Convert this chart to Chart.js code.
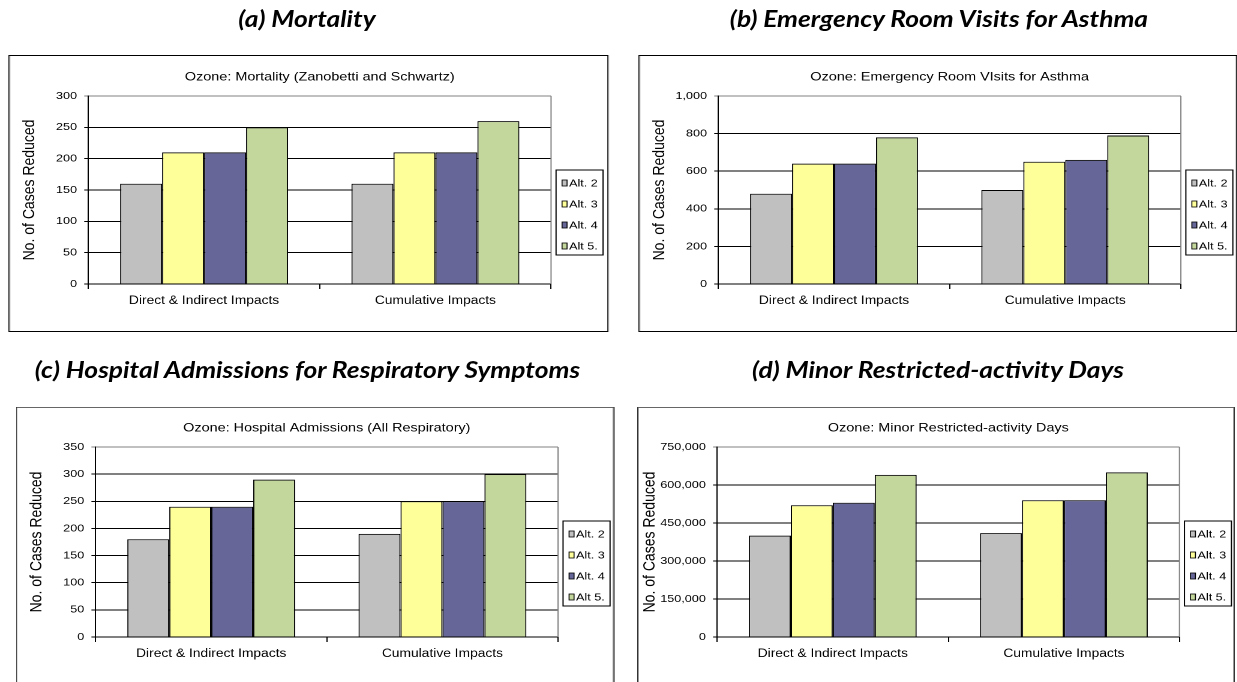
<!DOCTYPE html>
<html>
<head>
<meta charset="utf-8">
<script src="https://cdn.jsdelivr.net/npm/chart.js@4.4.1/dist/chart.umd.min.js"></script>
<style>
  html, body { margin: 0; padding: 0; background: #fff; overflow: hidden; width: 1237px; height: 682px; }
  #stage { position: absolute; left: 0; top: 0; width: 1031px; height: 682px; transform: scaleX(1.2); transform-origin: 0 0; }
  .box { position: absolute; box-sizing: border-box; border: 1px solid #000; background: transparent; }
  .boxLow { border-top-color: #666; }
  canvas.chart { position: absolute; }
  .ptitle { position: absolute; width: 600px; text-align: center; font-family: Lato, "Open Sans", sans-serif; font-weight: 700; font-style: italic; font-size: 22px; line-height: 26.4px; color: #000; white-space: nowrap; }
</style>
</head>
<body>
<div id="stage"></div>
<script>
// ---------------- data ----------------
const categories = ['Direct & Indirect Impacts', 'Cumulative Impacts'];
const seriesNames = ['Alt. 2', 'Alt. 3', 'Alt. 4', 'Alt 5.'];

// values per series: [Direct & Indirect, Cumulative]
const mortalityValues = [[160, 160], [210, 210], [210, 210], [250, 260]];
const asthmaValues    = [[480, 500], [640, 650], [640, 660], [780, 790]];
const hospitalValues  = [[180, 190], [240, 250], [240, 250], [290, 300]];
const mradValues      = [[400000, 410000], [520000, 540000], [530000, 540000], [640000, 650000]];

const mortalityTicks = [0, 50, 100, 150, 200, 250, 300];
const asthmaTicks    = [0, 200, 400, 600, 800, 1000];
const hospitalTicks  = [0, 50, 100, 150, 200, 250, 300, 350];
const mradTicks      = [0, 150000, 300000, 450000, 600000, 750000];

const panelHeadings = ['(a) Mortality', '(b) Emergency Room Visits for Asthma',
  '(c) Hospital Admissions for Respiratory Symptoms', '(d) Minor Restricted-activity Days'];
const chartTitles = ['Ozone: Mortality (Zanobetti and Schwartz)', 'Ozone: Emergency Room VIsits for Asthma',
  'Ozone: Hospital Admissions (All Respiratory)', 'Ozone: Minor Restricted-activity Days'];
const axisTitle = 'No. of Cases Reduced';

// ---------------- styles / layout ----------------
const seriesColors = ['#C0C0C0', '#FFFF99', '#666699', '#C3D69B'];
const FONT = 'Liberation Sans';
const S = 1.2; // horizontal stretch of the original figure

const panels = [
  { values: mortalityValues, ticks: mortalityTicks, left: 8,   top: 55,  w: 600, h: 277, bottom: 229, headX: 307,   headY: 19.5, axisOff: 21.3 },
  { values: asthmaValues,    ticks: asthmaTicks,    left: 638, top: 55,  w: 599, h: 277, bottom: 229, headX: 939,   headY: 19.5, axisOff: 21.3 },
  { values: hospitalValues,  ticks: hospitalTicks,  left: 16,  top: 407, w: 599, h: 300, bottom: 230, headX: 307.5, headY: 370.5, axisOff: 21.3 },
  { values: mradValues,      ticks: mradTicks,      left: 637, top: 407, w: 598, h: 300, bottom: 230, headX: 938,   headY: 370.5, axisOff: 12.5 }
];

const frameAndLegend = {
  id: 'frameAndLegend',
  beforeDatasetsDraw(chart) {
    const { ctx, chartArea: a } = chart;
    ctx.save();
    ctx.strokeStyle = '#808080';
    ctx.lineWidth = 1;
    ctx.beginPath();
    ctx.moveTo(a.right, a.top);
    ctx.lineTo(a.right, a.bottom);
    ctx.stroke();
    ctx.restore();
  },
  afterDraw(chart) {
    const { ctx, chartArea: a } = chart;
    const x0 = a.right + 5 / S, y0 = a.top + 74, w = 47 / S, h = 85;
    ctx.save();
    ctx.fillStyle = '#fff';
    ctx.fillRect(x0, y0, w, h);
    ctx.strokeStyle = '#000';
    ctx.lineWidth = 1;
    ctx.strokeRect(x0, y0, w, h);
    ctx.font = '10.5px "' + FONT + '"';
    ctx.textBaseline = 'middle';
    chart.data.datasets.forEach((ds, i) => {
      const cy = y0 + 13 + 21 * i;
      ctx.fillStyle = ds.backgroundColor;
      ctx.fillRect(x0 + 6 / S, cy - 3, 5 / S, 6);
      ctx.strokeStyle = '#000';
      ctx.lineWidth = 0.8;
      ctx.strokeRect(x0 + 6 / S, cy - 3, 5 / S, 6);
      ctx.fillStyle = '#000';
      ctx.fillText(ds.label, x0 + 13 / S, cy + 0.5);
    });
    ctx.restore();
  }
};

const stage = document.getElementById('stage');

panels.forEach((p, k) => {
  const W = p.w / S;
  const L = p.left / S;

  const head = document.createElement('div');
  head.className = 'ptitle';
  head.textContent = panelHeadings[k];
  head.style.left = (p.headX / S - 300) + 'px';
  head.style.top = (p.headY - 13.8) + 'px';
  stage.appendChild(head);

  const cv = document.createElement('canvas');
  cv.className = 'chart';
  cv.width = W; cv.height = p.h;
  cv.style.left = L + 'px';
  cv.style.top = p.top + 'px';
  stage.appendChild(cv);

  const box = document.createElement('div');
  box.className = 'box' + (k >= 2 ? ' boxLow' : '');
  box.style.left = L + 'px';
  box.style.top = p.top + 'px';
  box.style.width = W + 'px';
  box.style.height = p.h + 'px';
  stage.appendChild(box);

  const tk = p.ticks;
  const yMin = tk[0], yMax = tk[tk.length - 1], yStep = tk[1] - tk[0];
  const xAxisH = p.h - p.bottom;
  const padTop = k >= 2 ? 14 : 15;
  const titleB = (k >= 2 ? 40 : 41) - padTop - 14.4;

  new Chart(cv, {
    type: 'bar',
    data: {
      labels: categories,
      datasets: seriesNames.map((name, i) => ({
        label: name,
        data: p.values[i],
        backgroundColor: seriesColors[i],
        borderColor: '#000',
        borderWidth: 1,
        categoryPercentage: 0.726,
        barPercentage: 1.0
      }))
    },
    options: {
      responsive: false,
      animation: false,
      devicePixelRatio: 2,
      layout: { padding: { top: padTop, left: 0, bottom: 0, right: W - 452.2 } },
      plugins: {
        legend: { display: false },
        tooltip: { enabled: false },
        title: {
          display: true,
          text: chartTitles[k],
          fullSize: false,
          color: '#000',
          font: { family: FONT, size: 12, weight: 'normal' },
          padding: { top: 0, bottom: titleB }
        }
      },
      scales: {
        x: {
          offset: true,
          grid: { display: true, offset: true, drawOnChartArea: false, drawTicks: true, tickLength: 5, color: '#000', lineWidth: 1 },
          border: { display: true, color: '#000', width: 1 },
          ticks: { color: '#000', padding: 5, font: { family: FONT, size: 11.5 }, maxRotation: 0, autoSkip: false },
          afterFit: s => { s.height = xAxisH; }
        },
        y: {
          min: yMin, max: yMax,
          grid: {
            color: c => (c.tick && c.tick.value === yMax ? '#808080' : '#000'),
            lineWidth: 1, drawTicks: true, tickLength: 3.5
          },
          border: { display: true, color: '#000', width: 1 },
          ticks: {
            stepSize: yStep, color: '#000', padding: 6,
            font: { family: FONT, size: 10.5 },
            callback: v => Number(v).toLocaleString('en-US')
          },
          title: {
            display: true, text: axisTitle, color: '#000',
            font: { family: FONT, size: 14, weight: 'normal' },
            padding: { top: Math.max(0, p.axisOff / S - 8.4), bottom: 0 }
          },
          afterFit: s => { s.width = 80 / S; }
        }
      }
    },
    plugins: [frameAndLegend]
  });
});
</script>
</body>
</html>
